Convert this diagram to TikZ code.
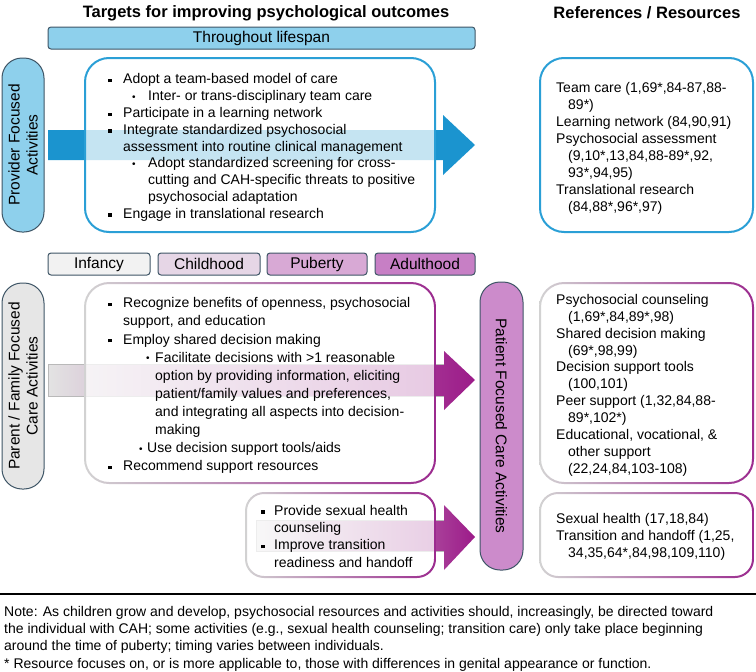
\documentclass[tikz,border=0pt]{standalone}
\usepackage{fontspec}
\setmainfont{Liberation Sans}
\usetikzlibrary{calc}
\definecolor{lbfill}{HTML}{8ED0EC}
\definecolor{darkedge}{HTML}{3E5566}
\definecolor{boxblue}{HTML}{2A9FD6}
\definecolor{arrblue}{HTML}{1B94CF}
\definecolor{infc}{HTML}{F2F2F2}
\definecolor{chic}{HTML}{E6D6E6}
\definecolor{pubc}{HTML}{D8A9D5}
\definecolor{adc}{HTML}{C77FC5}
\definecolor{patc}{HTML}{CC8BCB}
\definecolor{magend}{HTML}{9C1B89}
\definecolor{ringpurple}{HTML}{9B2A8E}
\definecolor{pgray}{HTML}{E6E6E6}
\newcommand\bsq{\makebox[15pt][l]{\rule[0.22ex]{3.3pt}{3.3pt}}}
\newcommand\dotglyph{\raisebox{0.05ex}{\fontsize{10}{10}\selectfont •}}
\newcommand\sdot{\makebox[16pt][l]{\dotglyph}}
\tikzset{
  body/.style={font=\fontsize{14}{16.8}\selectfont, align=left, inner sep=0pt, anchor=north west},
  lbl/.style={font=\fontsize{15.5}{18}\selectfont},
  agebox/.style={draw=darkedge, line width=1pt, rounded corners=3pt, minimum height=22pt, lbl, inner sep=0pt},
  pillbox/.style={draw=darkedge, line width=1pt, rounded corners=20pt, rotate=90, lbl, align=center, inner sep=0pt},
  title/.style={font=\bfseries\fontsize{16.5}{19}\selectfont},
  stemline/.style={draw=gray!55, line width=0.7pt}
}
\begin{document}
\begin{tikzpicture}[x=1pt,y=-1pt]
\useasboundingbox (0,0) rectangle (756,672);

% titles
\node[title] (t1) at (266,13) {Targets for improving psychological outcomes};
\node[title] (t2) at (647,13) {References / Resources};

% ---------- provider section ----------
\node[agebox, fill=lbfill, minimum width=427pt] (life) at (261.5,38) {Throughout lifespan};
\node[pillbox, fill=lbfill, minimum width=174pt, minimum height=42pt] (prov) at (23,145) {Provider Focused\\Activities};

\fill[arrblue] (48,130) -- (443,130) -- (443,115) -- (475,145) -- (443,175) -- (443,160) -- (48,160) -- cycle;

\node[draw=boxblue, line width=2pt, fill=white, fill opacity=0.75, rounded corners=24pt,
      minimum width=350pt, minimum height=174pt, inner sep=0pt] (pbox) at (260,145) {};
\node[body] (ptext) at (108,73.5) {%
\bsq Adopt a team-based model of care\\
\hspace*{24pt}\sdot Inter- or trans-disciplinary team care\\
\bsq Participate in a learning network\\
\bsq Integrate standardized psychosocial\\
\hspace*{15pt}assessment into routine clinical management\\
\hspace*{24pt}\sdot Adopt standardized screening for cross-\\
\hspace*{40pt}cutting and CAH-specific threats to positive\\
\hspace*{40pt}psychosocial adaptation\\
\bsq Engage in translational research};

\node[draw=boxblue, line width=2pt, fill=white, rounded corners=24pt,
      minimum width=213pt, minimum height=174pt, inner sep=0pt] (rbox1) at (646.5,145) {};
\node[body, font=\fontsize{14}{17}\selectfont] (rtext1) at (556,82) {%
Team care (1,69*,84-87,88-\\
\hspace*{12pt}89*)\\
Learning network (84,90,91)\\
Psychosocial assessment\\
\hspace*{12pt}(9,10*,13,84,88-89*,92,\\
\hspace*{12pt}93*,94,95)\\
Translational research\\
\hspace*{12pt}(84,88*,96*,97)};

% ---------- age bars ----------
\node[agebox, fill=infc, minimum width=102pt] (inf) at (99,264) {Infancy};
\node[agebox, fill=chic, minimum width=102pt] (chi) at (209,264) {Childhood};
\node[agebox, fill=pubc, minimum width=100pt] (pub) at (317,264) {Puberty};
\node[agebox, fill=adc, minimum width=100pt] (adu) at (425,264) {Adulthood};

% ---------- parent section ----------
\node[pillbox, fill=pgray, minimum width=206pt, minimum height=42pt] (par) at (23,386) {Parent / Family Focused\\Care Activities};

\shade[left color=gray!22, right color=magend] (48,364) -- (444,364) -- (444,351) -- (475,380) -- (444,410) -- (444,396) -- (48,396) -- cycle;
\path[stemline] (444,364) -- (48,364) -- (48,396) -- (444,396);
\draw[gray, line width=0.6pt] (85,364) -- (85,396);

\shade[left color=gray!22, right color=magend] (256,520) -- (444,520) -- (444,505) -- (475,537) -- (444,570) -- (444,551) -- (256,551) -- cycle;
\path[stemline] (444,520) -- (256,520) -- (256,551) -- (444,551);

% box 2
\fill[white, fill opacity=0.75, rounded corners=24pt] (85,283) rectangle (435,483);
\shade[left color=gray!35, right color=ringpurple, even odd rule]
  [rounded corners=25pt] (84,282) rectangle (436,484)
  [rounded corners=23pt] (86,284) rectangle (434,482);
\node[body, font=\fontsize{14}{18.1}\selectfont] (ftext) at (108,297.5) {%
\bsq Recognize benefits of openness, psychosocial\\
\hspace*{15pt}support, and education\\
\bsq Employ shared decision making\\
\hspace*{38pt}\makebox[9pt][l]{\dotglyph}Facilitate decisions with >1 reasonable\\
\hspace*{47pt}option by providing information, eliciting\\
\hspace*{47pt}patient/family values and preferences,\\
\hspace*{47pt}and integrating all aspects into decision-\\
\hspace*{47pt}making\\
\hspace*{31pt}\makebox[8pt][l]{\dotglyph}Use decision support tools/aids\\
\bsq Recommend support resources};

% box 3
\fill[white, fill opacity=0.75, rounded corners=18pt] (246,493) rectangle (435,577);
\shade[left color=gray!35, right color=ringpurple, even odd rule]
  [rounded corners=19pt] (245,492) rectangle (436,578)
  [rounded corners=17pt] (247,494) rectangle (434,576);
\node[body, font=\fontsize{14}{17.3}\selectfont] (stext) at (261,505) {%
\makebox[13pt][l]{\rule[0.22ex]{3.3pt}{3.3pt}}Provide sexual health\\
\hspace*{13pt}counseling\\
\makebox[13pt][l]{\rule[0.22ex]{3.3pt}{3.3pt}}Improve transition\\
\hspace*{13pt}readiness and handoff};

% patient pill
\node[pillbox, rotate=-180, fill=patc, minimum width=288pt, minimum height=43pt] (pat) at (501.5,426) {Patient Focused Care Activities};

% refs box 2
\fill[white, rounded corners=24pt] (540,283) rectangle (753,483);
\shade[left color=gray!35, right color=ringpurple, even odd rule]
  [rounded corners=25pt] (539,282) rectangle (754,484)
  [rounded corners=23pt] (541,284) rectangle (752,482);
\node[body, font=\fontsize{14}{16.9}\selectfont] (rtext2) at (556,294) {%
Psychosocial counseling\\
\hspace*{12pt}(1,69*,84,89*,98)\\
Shared decision making\\
\hspace*{12pt}(69*,98,99)\\
Decision support tools\\
\hspace*{12pt}(100,101)\\
Peer support (1,32,84,88-\\
\hspace*{12pt}89*,102*)\\
Educational, vocational, \&\\
\hspace*{12pt}other support\\
\hspace*{12pt}(22,24,84,103-108)};

% refs box 3
\shade[left color=gray!35, right color=ringpurple, even odd rule]
  [rounded corners=19pt] (539,492) rectangle (754,578)
  [rounded corners=17pt] (541,494) rectangle (752,576);
\node[body, font=\fontsize{14}{17}\selectfont] (rtext3) at (556,513) {%
Sexual health (17,18,84)\\
Transition and handoff (1,25,\\
\hspace*{12pt}34,35,64*,84,98,109,110)};

% ---------- note ----------
\draw[line width=1.5pt] (0,594) -- (756,594);
\node[body, font=\fontsize{14}{17}\selectfont] (note) at (4,606) {%
Note: As children grow and develop, psychosocial resources and activities should, increasingly, be directed toward\\
the individual with CAH; some activities (e.g., sexual health counseling; transition care) only take place beginning\\
around the time of puberty; timing varies between individuals.};
\node[body] (star) at (4,658) {* Resource focuses on, or is more applicable to, those with differences in genital appearance or function.};
\end{tikzpicture}
\end{document}
